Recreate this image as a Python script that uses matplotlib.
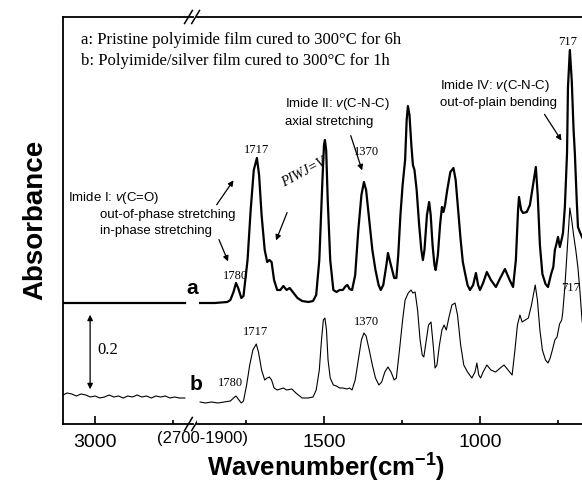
import numpy as np
import matplotlib.pyplot as plt

plt.rcParams['font.family'] = ['Liberation Sans', 'DejaVu Sans']
plt.rcParams['mathtext.fontset'] = 'custom'
plt.rcParams['mathtext.rm'] = 'Liberation Sans'
plt.rcParams['mathtext.it'] = 'Liberation Sans:italic'
plt.rcParams['mathtext.bf'] = 'Liberation Sans:bold'

SERIF = ['Liberation Serif', 'DejaVu Serif']

# --- data (absorbance, arbitrary units incl. offset) ---
# left part of the broken axis (3100-2700 cm-1)
wn_left = [3103, 3090, 3075, 3060, 3045, 3030, 3015, 3000, 2985, 2970, 2955,
           2940, 2925, 2910, 2895, 2880, 2865, 2850, 2835, 2820, 2805, 2790,
           2775, 2760, 2745, 2730, 2712]
a_left = [121] * len(wn_left)
b_left = [29, 31, 30, 28, 30, 29, 27, 28, 26, 27, 29, 27, 28, 26, 28, 27, 29,
          27, 28, 26, 28, 27, 28, 26, 27, 26, 26]

# right part (1900-650 cm-1)
wn_a = [1897, 1850, 1810, 1800, 1790, 1782, 1775, 1765, 1758, 1745, 1735, 1725,
        1715, 1708, 1700, 1690, 1682, 1675, 1668, 1660, 1650, 1640, 1630, 1620,
        1610, 1600, 1585, 1570, 1550, 1535, 1525, 1515, 1505, 1500, 1497, 1493,
        1488, 1480, 1470, 1460, 1450, 1440, 1430, 1425, 1418, 1410, 1400, 1390,
        1380, 1372, 1365, 1355, 1345, 1335, 1325, 1318, 1310, 1300, 1295, 1288,
        1275, 1268, 1262, 1255, 1248, 1240, 1235, 1231, 1226, 1220, 1215, 1210,
        1203, 1195, 1188, 1183, 1178, 1170, 1163, 1158, 1152, 1146, 1142, 1135,
        1128, 1122, 1117, 1112, 1105, 1095, 1085, 1078, 1070, 1062, 1055, 1048,
        1040, 1032, 1022, 1013, 1006, 1000, 990, 978, 965, 949, 935, 920, 905,
        894, 885, 878, 875, 868, 862, 850, 840, 830, 821, 815, 808, 800, 790,
        782, 772, 765, 760, 755, 750, 744, 738, 734, 728, 721, 718, 712, 706,
        700, 696, 690, 686, 680, 673, 660]
a_right = [121, 121, 122, 124, 132, 141, 136, 126, 128, 164, 214, 254,
           266, 249, 209, 174, 162, 164, 162, 144, 134, 134, 138, 134,
           136, 132, 126, 123, 122, 123, 129, 164, 244, 279, 284, 274,
           224, 164, 134, 132, 134, 134, 138, 139, 135, 134, 149, 194,
           229, 242, 234, 204, 174, 154, 139, 134, 139, 159, 171, 162,
           146, 146, 169, 209, 239, 264, 304, 318, 309, 279, 259, 254,
           234, 199, 174, 164, 174, 209, 222, 209, 179, 159, 154, 169,
           199, 217, 212, 219, 234, 252, 256, 244, 214, 184, 162, 151,
           139, 134, 139, 151, 139, 134, 141, 152, 144, 137, 146, 155, 144,
           137, 164, 214, 227, 214, 211, 212, 219, 239, 257, 229, 179, 150, 140,
           137, 150, 157, 174, 180, 187, 177, 185, 191, 217, 271, 337, 374, 344,
           294, 271, 224, 197, 192, 187, 179]

wn_b = [1897, 1880, 1860, 1840, 1820, 1800, 1790, 1782, 1775, 1765, 1758, 1748,
        1738, 1728, 1717, 1710, 1700, 1690, 1682, 1675, 1668, 1660, 1650, 1640,
        1630, 1620, 1603, 1590, 1570, 1551, 1535, 1525, 1515, 1508, 1502, 1497,
        1492, 1487, 1480, 1470, 1460, 1450, 1440, 1426, 1418, 1410, 1400, 1390,
        1380, 1372, 1365, 1355, 1345, 1335, 1324, 1315, 1305, 1295, 1285, 1275,
        1268, 1258, 1248, 1240, 1230, 1221, 1215, 1208, 1200, 1192, 1185, 1180,
        1172, 1165, 1157, 1150, 1144, 1138, 1130, 1122, 1115, 1108, 1100, 1090,
        1080, 1072, 1062, 1052, 1040, 1026, 1016, 1010, 1004, 998, 990, 978,
        965, 950, 935, 923, 910, 897, 888, 880, 872, 865, 855, 845, 835, 823,
        816, 808, 800, 790, 782, 775, 768, 760, 753, 745, 738, 735, 728, 721,
        712, 706, 700, 693, 686, 680, 673, 660]
b_right = [22, 21, 22, 21, 22, 23, 26, 28, 25, 21, 23, 39,
           59, 74, 80, 72, 54, 44, 46, 47, 44, 36, 34, 35,
           36, 34, 35, 31, 26, 26, 27, 34, 54, 84, 104, 106,
           94, 64, 46, 39, 38, 36, 36, 35, 36, 34, 44, 64,
           84, 91, 88, 74, 59, 46, 39, 42, 52, 57, 52, 44,
           46, 74, 104, 124, 131, 134, 131, 132, 114, 84, 69, 67,
           84, 99, 102, 79, 56, 59, 79, 94, 99, 94, 106, 119,
           121, 109, 79, 59, 52, 46, 52, 61, 49, 46, 52, 59,
           54, 52, 56, 59, 54, 49, 74, 99, 109, 102, 104, 106, 119, 139,
           124, 94, 74, 64, 61, 66, 74, 84, 87, 100, 104, 111, 137, 171,
           216, 204, 189, 174, 156, 134, 104, 79]

major_left, minor_left = [3000], [2750]
major_right, minor_right = [1500, 1000], [1750, 1250, 750]

W, H = 582, 494


def px(x, y):
    return x / W, 1 - y / H


fig = plt.figure(figsize=(W / 100, H / 100), dpi=100)
bottom, height = 1 - 424 / H, 407 / H
ax1 = fig.add_axes([63 / W, bottom, 130 / W, height])
ax2 = fig.add_axes([197 / W, bottom, (592 - 197) / W, height])

ax1.plot(wn_left, a_left, color='black', lw=1.6)
ax1.plot(wn_left, b_left, color='black', lw=0.8)
ax2.plot(wn_a, a_right, color='black', lw=1.6)
ax2.plot(wn_b, b_right, color='black', lw=0.8)

ax1.set_xlim(3103, 2686)
ax2.set_xlim(1907, 641)
for ax in (ax1, ax2):
    ax.set_ylim(0, 407)
    ax.set_yticks([])
    ax.spines['right'].set_visible(False)
    for s in ax.spines.values():
        s.set_linewidth(1.3)
    ax.tick_params(axis='x', which='both', direction='in', width=1.2,
                   labelsize=14, pad=7)
    ax.tick_params(axis='x', which='major', length=6)
    ax.tick_params(axis='x', which='minor', length=3)
ax2.spines['left'].set_visible(False)

ax1.set_xticks(major_left)
ax1.set_xticks(minor_left, minor=True)
ax2.set_xticks(major_right)
ax2.set_xticks(minor_right, minor=True)

# break marks "//"
kw = dict(color='black', lw=1.1, clip_on=False)
for y0 in (0, 1):
    for dx in (-0.035, 0.02):
        ax1.plot([1 + dx - 0.03, 1 + dx + 0.03], [y0 - 0.016, y0 + 0.016],
                 transform=ax1.transAxes, **kw)

fig.text(*px(203, 438), '(2700-1900)', fontsize=12, ha='center', va='center')

fig.text(*px(35, 220), 'Absorbance', fontsize=20, fontweight='bold',
         rotation=90, ha='center', va='center')
fig.text(*px(326, 468), r'Wavenumber(cm$^{\mathbf{-1}}$)', fontsize=18.5,
         fontweight='bold', ha='center', va='center')

fig.text(*px(81, 40), 'a: Pristine polyimide film cured to 300°C for 6h',
         family=SERIF, fontsize=12, va='center')
fig.text(*px(81, 61), 'b: Polyimide/silver film cured to 300°C for 1h',
         family=SERIF, fontsize=12, va='center')

fig.text(*px(68, 198), r'Imide I: $\mathit{v}$(C=O)', fontsize=9.5, va='center')
fig.text(*px(100, 215), 'out-of-phase stretching', fontsize=9.5, va='center')
fig.text(*px(100, 231), 'in-phase stretching', fontsize=9.5, va='center')

fig.text(*px(192, 288), 'a', fontsize=15, fontweight='bold', ha='center', va='center')
fig.text(*px(196, 384), 'b', fontsize=15, fontweight='bold', ha='center', va='center')

# peak labels
for wn, h, s in [(1785, 148, '1780'), (1715, 274, '1717'), (1365, 272, '1370'),
                 (718, 382, '717'), (1801, 41, '1780'), (1718, 92, '1717'),
                 (1365, 102, '1370'), (708, 136, '717')]:
    ax2.text(wn, h, s, family=SERIF, fontsize=9, ha='center', va='center',
             clip_on=False)

ax2.text(1625, 320, r'Imide II: $\mathit{v}$(C-N-C)', fontsize=9.5, va='center')
ax2.text(1625, 302, 'axial stretching', fontsize=9.5, va='center')
ax2.text(1128, 338, r'Imide IV: $\mathit{v}$(C-N-C)', fontsize=9.5, va='center')
ax2.text(1128, 321, 'out-of-plain bending', fontsize=9.5, va='center')

arrow = dict(arrowstyle='-|>', color='black', lw=0.9, mutation_scale=8)
for tail, head in [((1849, 217), (1785, 246)), ((1840, 187), (1804, 160)),
                   ((1417, 291), (1375, 251)), ((798, 312), (734, 281)),
                   ((1615, 214), (1657, 181))]:
    ax2.annotate('', xy=head, xytext=tail, arrowprops=arrow)

# handwritten note on the scan
ax2.text(1565, 252, 'PIWJ=V', family=SERIF, style='italic', fontsize=10,
         rotation=28, ha='center', va='center')

# 0.2 scale bar
ax1.annotate('', xy=(3016, 112), xytext=(3016, 32),
             arrowprops=dict(arrowstyle='<|-|>', color='black', lw=0.9,
                             mutation_scale=8))
ax1.text(2994, 74, '0.2', family=SERIF, fontsize=12, va='center')

fig.savefig('out.png', dpi=100)
